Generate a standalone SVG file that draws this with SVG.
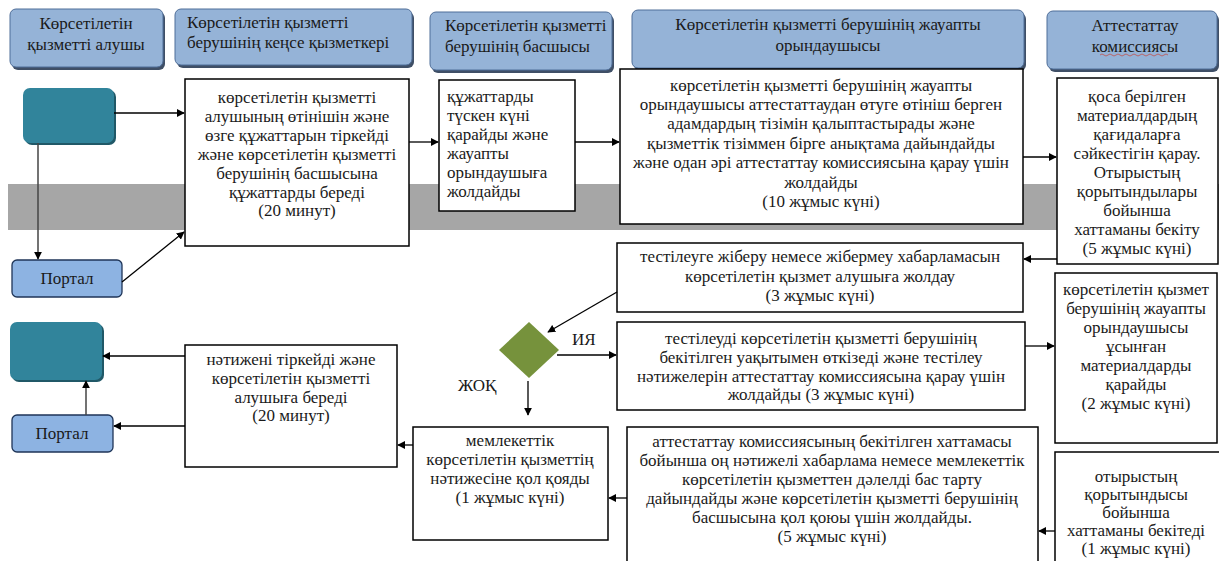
<svg xmlns="http://www.w3.org/2000/svg" width="1219" height="561" viewBox="0 0 1219 561" font-family="Liberation Serif, serif">
<defs>
<style>
.hdr{fill:#95B3D7;stroke:#4F6E99;stroke-width:1}
.hsh{fill:#3F4F66}
.box{fill:#fff;stroke:#000;stroke-width:1.5}
.teal{fill:#31849B}
.tsh{fill:#205867}
.portal{fill:#8DB3E2;stroke:#1F3558;stroke-width:1.3}
.t{font-size:17px;fill:#1a1a1a}
.th{font-size:17px;fill:#1a1a1a}
.c{text-anchor:middle}
.ln{stroke:#000;stroke-width:1.3;fill:none;marker-end:url(#ah)}
.lg{stroke:#444;stroke-width:1.5;fill:none;marker-end:url(#ah)}
</style>
<marker id="ah" viewBox="0 0 10 10" refX="9" refY="5" markerWidth="8" markerHeight="8" markerUnits="userSpaceOnUse" orient="auto">
<path d="M0,0 L10,5 L0,10 z" fill="#000"/>
</marker>
</defs>
<rect width="1219" height="561" fill="#fff"/>
<rect x="8" y="184" width="1211" height="46" fill="#A6A6A6"/>

<g id="h1"><rect class="hsh" x="12" y="12" width="153" height="58" rx="6"/><rect class="hdr" x="10" y="9" width="153" height="58" rx="6"/>
<text class="th c" x="86" y="29">Көрсетілетін</text><text class="th c" x="86" y="50">қызметті  алушы</text></g>
<g id="h2"><rect class="hsh" x="177" y="12" width="237" height="56" rx="6"/><rect class="hdr" x="175" y="9" width="237" height="56" rx="6"/>
<text class="th" x="187" y="28">Көрсетілетін қызметті</text><text class="th" x="187" y="48">берушінің кеңсе қызметкері</text></g>
<g id="h3"><rect class="hsh" x="432" y="15" width="182" height="58" rx="6"/><rect class="hdr" x="430" y="12" width="182" height="58" rx="6"/>
<text class="th" x="445" y="31">Көрсетілетін қызметті</text><text class="th" x="445" y="52">берушінің басшысы</text></g>
<g id="h4"><rect class="hsh" x="634" y="13" width="392" height="58" rx="6"/><rect class="hdr" x="632" y="10" width="392" height="58" rx="6"/>
<text class="th c" x="828" y="30">Көрсетілетін қызметті берушінің жауапты</text><text class="th c" x="828" y="51">орындаушысы</text></g>
<g id="h5"><rect class="hsh" x="1049" y="14" width="170" height="58" rx="6"/><rect class="hdr" x="1047" y="11" width="170" height="58" rx="6"/>
<text class="th c" x="1135" y="31">Аттестаттау</text><text class="th c" x="1135" y="52">комиссиясы</text>
<path d="M1100,55 q2,-2 4,0 t4,0 t4,0 t4,0 t4,0 t4,0 t4,0 t4,0 t4,0 t4,0 t4,0 t4,0 t4,0 t4,0 t4,0 t4,0 t4,0" stroke="#C0504D" stroke-width="0.8" fill="none"/></g>

<g id="start"><rect class="tsh" x="25" y="90" width="91" height="55" rx="7"/><rect class="teal" x="23" y="88" width="91" height="55" rx="7"/></g>
<g id="portal1"><rect class="portal" x="12" y="260" width="110" height="37" rx="5"/><text class="th c" x="67" y="284">Портал</text></g>
<g id="end"><rect class="tsh" x="12" y="324" width="92" height="58" rx="7"/><rect class="teal" x="10" y="322" width="92" height="58" rx="7"/></g>
<g id="portal2"><rect class="portal" x="12" y="415" width="101" height="37" rx="5"/><text class="th c" x="62" y="439">Портал</text></g>

<g id="b2"><rect class="box" x="185" y="79" width="224" height="167"/>
<text class="t c"><tspan x="297" y="103">көрсетілетін қызметті</tspan><tspan x="297" y="122">алушының өтінішін және</tspan><tspan x="297" y="141">өзге құжаттарын тіркейді</tspan><tspan x="297" y="160">және көрсетілетін қызметті</tspan><tspan x="297" y="179">берушінің басшысына</tspan><tspan x="297" y="198">құжаттарды береді</tspan><tspan x="297" y="216">(20 минут)</tspan></text></g>

<g id="b3"><rect class="box" x="439" y="80" width="136" height="131"/>
<text class="t"><tspan x="447" y="102">құжаттарды</tspan><tspan x="447" y="121">түскен күні</tspan><tspan x="447" y="140">қарайды және</tspan><tspan x="447" y="159">жауапты</tspan><tspan x="447" y="178">орындаушыға</tspan><tspan x="447" y="197">жолдайды</tspan></text></g>

<g id="b4"><rect class="box" x="620" y="69" width="403" height="155"/>
<text class="t c"><tspan x="821" y="91">көрсетілетін қызметті берушінің жауапты</tspan><tspan x="821" y="110">орындаушысы аттестаттаудан  өтуге өтініш берген</tspan><tspan x="821" y="129">адамдардың тізімін қалыптастырады  және</tspan><tspan x="821" y="149">қызметтік тізіммен бірге анықтама дайындайды</tspan><tspan x="821" y="168">және одан әрі аттестаттау комиссиясына қарау үшін</tspan><tspan x="821" y="188">жолдайды</tspan><tspan x="821" y="207">(10 жұмыс күні)</tspan></text></g>

<g id="b5"><rect class="box" x="1057" y="78" width="161" height="186"/>
<text class="t c"><tspan x="1137" y="102">қоса берілген</tspan><tspan x="1137" y="121">материалдардың</tspan><tspan x="1137" y="140">қағидаларға</tspan><tspan x="1137" y="159">сәйкестігін  қарау.</tspan><tspan x="1137" y="178">Отырыстың</tspan><tspan x="1137" y="197">қорытындылары</tspan><tspan x="1137" y="216">бойынша</tspan><tspan x="1137" y="235">хаттаманы бекіту</tspan><tspan x="1137" y="254">(5 жұмыс күні)</tspan></text></g>

<g id="b6"><rect class="box" x="617" y="243" width="406" height="69"/>
<text class="t c"><tspan x="820" y="262">тестілеуге жіберу немесе жібермеу хабарламасын</tspan><tspan x="820" y="282">көрсетілетін қызмет алушыға жолдау</tspan><tspan x="820" y="301">(3 жұмыс күні)</tspan></text></g>

<g id="b7"><rect class="box" x="617" y="322" width="408" height="88"/>
<text class="t c"><tspan x="821" y="344">тестілеуді көрсетілетін қызметті берушінің</tspan><tspan x="821" y="363">бекітілген уақытымен өткізеді және тестілеу</tspan><tspan x="821" y="382">нәтижелерін аттестаттау  комиссиясына қарау үшін</tspan><tspan x="821" y="400">жолдайды (3 жұмыс күні)</tspan></text></g>

<g id="b8"><rect class="box" x="1055" y="273" width="162" height="170"/>
<text class="t c"><tspan x="1136" y="295">көрсетілетін қызмет</tspan><tspan x="1136" y="314">берушінің жауапты</tspan><tspan x="1136" y="333">орындаушысы</tspan><tspan x="1136" y="352">ұсынған</tspan><tspan x="1136" y="371">материалдарды</tspan><tspan x="1136" y="390">қарайды</tspan><tspan x="1136" y="409">(2 жұмыс күні)</tspan></text></g>

<g id="decision"><polygon points="529,322 559,350 529,378 499,350" fill="#76923C"/>
<text class="th" x="572" y="345">ИЯ</text><text class="th" x="458" y="391">ЖОҚ</text></g>

<g id="b9"><rect class="box" x="185" y="345" width="212" height="122"/>
<text class="t c"><tspan x="291" y="365">нәтижені тіркейді және</tspan><tspan x="291" y="384">көрсетілетін қызметті</tspan><tspan x="291" y="403">алушыға береді</tspan><tspan x="291" y="421">(20 минут)</tspan></text></g>

<g id="b10"><rect class="box" x="413" y="427" width="195" height="113"/>
<text class="t c"><tspan x="510" y="446">мемлекеттік</tspan><tspan x="510" y="465">көрсетілетін қызметтің</tspan><tspan x="510" y="484">нәтижесіне   қол қояды</tspan><tspan x="510" y="503">(1 жұмыс күні)</tspan></text></g>

<g id="b11"><rect class="box" x="627" y="427" width="411" height="160"/>
<text class="t c"><tspan x="832" y="447">аттестаттау  комиссиясының бекітілген хаттамасы</tspan><tspan x="832" y="466">бойынша оң нәтижелі хабарлама немесе мемлекеттік</tspan><tspan x="832" y="485">көрсетілетін қызметтен дәлелді бас тарту</tspan><tspan x="832" y="504">дайындайды және көрсетілетін қызметті берушінің</tspan><tspan x="832" y="523">басшысына  қол қоюы үшін  жолдайды.</tspan><tspan x="832" y="542">(5 жұмыс күні)</tspan></text></g>

<g id="b12"><rect class="box" x="1055" y="452" width="170" height="130"/>
<text class="t c"><tspan x="1136" y="482">отырыстың</tspan><tspan x="1136" y="500">қорытындысы</tspan><tspan x="1136" y="518">бойынша</tspan><tspan x="1136" y="536">хаттаманы бекітеді</tspan><tspan x="1136" y="554">(1 жұмыс күні)</tspan></text></g>

<g id="connectors">
<path class="lg" d="M38,143 V259"/>
<path class="ln" d="M114,113 H184"/>
<path class="ln" d="M122,282 L184,232"/>
<path class="ln" d="M409,142 H438"/>
<path class="ln" d="M575,142 H619"/>
<path class="ln" d="M1023,157 H1056"/>
<path class="ln" d="M1057,259 H1024"/>
<path class="ln" d="M617,292 L548,332"/>
<path class="ln" d="M557,355 H616"/>
<path class="ln" d="M528,381 V415"/>
<path class="ln" d="M1025,346 H1054"/>
<path class="ln" d="M1055,531 H1039"/>
<path class="ln" d="M627,498 H609"/>
<path class="ln" d="M413,445 H398"/>
<path class="ln" d="M185,356 H103"/>
<path class="ln" d="M185,426 H114"/>
<path class="lg" d="M86,415 V381"/>
</g>
</svg>
